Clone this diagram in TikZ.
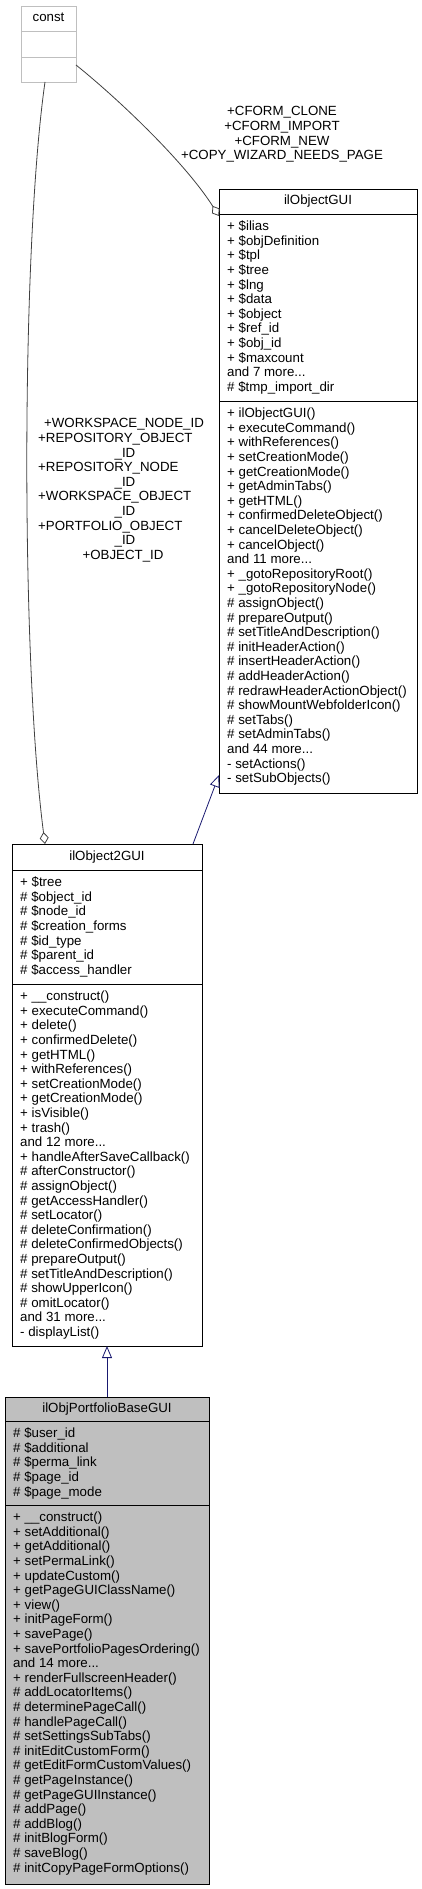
\documentclass[tikz,border=0pt]{standalone}
\usepackage{fontspec}
\setmainfont{Liberation Sans}
\usetikzlibrary{arrows.meta}
\definecolor{edgegray}{HTML}{404040}
\definecolor{inhnavy}{HTML}{191970}
\definecolor{boxgray}{HTML}{BFBFBF}
\tikzset{
  cls/.style={draw=black, line width=0.8pt, fill=white, inner sep=0pt, outer sep=0pt, anchor=north west},
  divider/.style={line width=0.8pt},
  lt/.style={font=\fontsize{13.3}{14.6}\selectfont, inner sep=0pt, text height=9.5pt, text depth=2.7pt},
  usage/.style={draw=edgegray, line width=0.8pt, -{Diamond[fill=white, length=12pt, width=9pt]}},
  inherit/.style={draw=inhnavy, line width=0.8pt, -{Triangle[fill=white, length=12pt, width=10pt]}},
}
\newcommand\mdots{...}
\newcommand\classrows[4]{%
  \foreach \rowtext [count=\rowk] in {#4} {%
    \node[lt, anchor=west] (#1\rowk) at (#2, #3+14.6*\rowk-14.6) {\rowtext};}}
\begin{document}
\begin{tikzpicture}[x=1pt,y=-1pt]
\useasboundingbox (0,0) rectangle (422,1889);

% const
\node[cls, draw=boxgray, minimum width=55pt, minimum height=76pt] (const) at (21,6) {};
\draw[divider, boxgray] (21,31) -- (76,31);
\draw[divider, boxgray] (21,57) -- (76,57);
\node[lt] (constT) at (48.5,18.5) {const};

% ilObjectGUI
\node[cls, minimum width=198pt, minimum height=604pt] (objgui) at (219,189) {};
\draw[divider] (219,214) -- (417,214);
\draw[divider] (219,401) -- (417,401);
\node[lt] (objguiT) at (318,201.5) {ilObjectGUI};
\classrows{oga}{227}{227.3}{+ \$ilias, + \$objDefinition, + \$tpl, + \$tree, + \$lng, + \$data, + \$object, + \$ref\_id, + \$obj\_id, + \$maxcount, and 7 more\mdots, \# \$tmp\_import\_dir}
\classrows{ogm}{227}{414.3}{+ ilObjectGUI(), + executeCommand(), + withReferences(), + setCreationMode(), + getCreationMode(), + getAdminTabs(), + getHTML(), + confirmedDeleteObject(), + cancelDeleteObject(), + cancelObject(), and 11 more\mdots, + \_gotoRepositoryRoot(), + \_gotoRepositoryNode(), \# assignObject(), \# prepareOutput(), \# setTitleAndDescription(), \# initHeaderAction(), \# insertHeaderAction(), \# addHeaderAction(), \# redrawHeaderActionObject(), \# showMountWebfolderIcon(), \# setTabs(), \# setAdminTabs(), and 44 more\mdots, - setActions(), - setSubObjects()}

% ilObject2GUI
\node[cls, minimum width=190pt, minimum height=502pt] (o2gui) at (12,844) {};
\draw[divider] (12,870) -- (202,870);
\draw[divider] (12,984) -- (202,984);
\node[lt] (o2guiT) at (107,857) {ilObject2GUI};
\classrows{o2a}{20}{883.3}{+ \$tree, \# \$object\_id, \# \$node\_id, \# \$creation\_forms, \# \$id\_type, \# \$parent\_id, \# \$access\_handler}
\classrows{o2m}{20}{997.3}{+ \_\_construct(), + executeCommand(), + delete(), + confirmedDelete(), + getHTML(), + withReferences(), + setCreationMode(), + getCreationMode(), + isVisible(), + trash(), and 12 more\mdots, + handleAfterSaveCallback(), \# afterConstructor(), \# assignObject(), \# getAccessHandler(), \# setLocator(), \# deleteConfirmation(), \# deleteConfirmedObjects(), \# prepareOutput(), \# setTitleAndDescription(), \# showUpperIcon(), \# omitLocator(), and 31 more\mdots, - displayList()}

% ilObjPortfolioBaseGUI
\node[cls, fill=boxgray, minimum width=204pt, minimum height=487pt] (pgui) at (5,1397) {};
\draw[divider] (5,1421) -- (209,1421);
\draw[divider] (5,1505) -- (209,1505);
\node[lt] (pguiT) at (107,1409) {ilObjPortfolioBaseGUI};
\classrows{pga}{13}{1434.3}{\# \$user\_id, \# \$additional, \# \$perma\_link, \# \$page\_id, \# \$page\_mode}
\classrows{pgm}{13}{1518.3}{+ \_\_construct(), + setAdditional(), + getAdditional(), + setPermaLink(), + updateCustom(), + getPageGUIClassName(), + view(), + initPageForm(), + savePage(), + savePortfolioPagesOrdering(), and 14 more\mdots, + renderFullscreenHeader(), \# addLocatorItems(), \# determinePageCall(), \# handlePageCall(), \# setSettingsSubTabs(), \# initEditCustomForm(), \# getEditFormCustomValues(), \# getPageInstance(), \# getPageGUIInstance(), \# addPage(), \# addBlog(), \# initBlogForm(), \# saveBlog(), \# initCopyPageFormOptions()}

% connectors
\draw[usage] ([xshift=24pt]const.south west) .. controls (21,250) and (21,660) .. ([xshift=33pt]o2gui.north west);
\draw[usage] ([yshift=17pt]const.south east) .. controls (116,97) and (184,161) .. ([yshift=-27pt]objgui.north west);
\draw[inherit] ([xshift=181pt]o2gui.north west) -- ([yshift=18pt]objgui.south west);
\draw[inherit] (pgui.north) -- (o2gui.south);

% edge labels
\node[lt] (lc1) at (282,112.5) {+CFORM\_CLONE};
\node[lt] (lc2) at (282,127.1) {+CFORM\_IMPORT};
\node[lt] (lc3) at (282,141.7) {+CFORM\_NEW};
\node[lt] (lc4) at (282,156.3) {+COPY\_WIZARD\_NEEDS\_PAGE};

\node[lt] (lw1) at (124,424.5) {+WORKSPACE\_NODE\_ID};
\node[lt, anchor=west] (lw2) at (38,439.1) {+REPOSITORY\_OBJECT};
\node[lt] (lw3) at (125,453.7) {\_ID};
\node[lt, anchor=west] (lw4) at (38,468.3) {+REPOSITORY\_NODE};
\node[lt] (lw5) at (125,482.9) {\_ID};
\node[lt, anchor=west] (lw6) at (38,497.5) {+WORKSPACE\_OBJECT};
\node[lt] (lw7) at (125,512.1) {\_ID};
\node[lt, anchor=west] (lw8) at (38,526.7) {+PORTFOLIO\_OBJECT};
\node[lt] (lw9) at (125,541.3) {\_ID};
\node[lt] (lw10) at (123,555.9) {+OBJECT\_ID};
\end{tikzpicture}
\end{document}
